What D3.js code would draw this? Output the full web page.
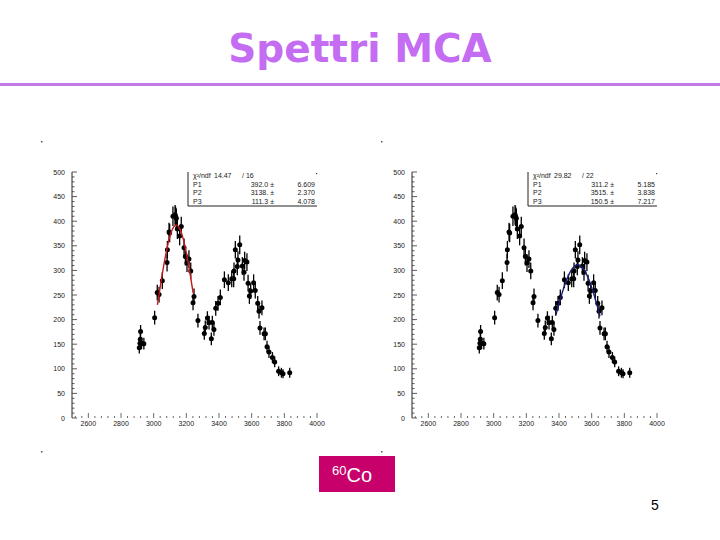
<!DOCTYPE html>
<html>
<head>
    <meta charset="utf-8">
    <style>
        body { margin: 0; background: white; }
        svg { display: block; }
    </style>
</head>
<body>
    <svg width="720" height="540"></svg>

<script src="https://d3js.org/d3.v7.min.js"></script>
<script>
    // MCA channel, counts and Poisson error
    let channels = [2912, 2916, 2918, 2920, 2926, 2940, 3006, 3022, 3033, 3053, 3082, 3084, 3094, 3098, 3118, 3131, 3134, 3139,
        3145, 3159, 3169, 3186, 3194, 3204, 3216, 3227, 3241, 3247, 3271, 3310, 3316, 3329, 3339, 3353, 3359, 3369,
        3380, 3394, 3408, 3433, 3457, 3478, 3490, 3492, 3500, 3512, 3516, 3527, 3543, 3553, 3557, 3571, 3578, 3586,
        3594, 3612, 3622, 3637, 3645, 3651, 3663, 3676, 3684, 3694, 3706, 3727, 3741, 3765, 3782, 3792, 3833]
    let counts = [143, 152, 160, 176, 152, 151, 204, 255, 251, 279, 316, 342, 378, 376, 410, 413, 410, 406,
        384, 370, 389, 346, 328, 315, 323, 299, 234, 247, 198, 172, 184, 203, 194, 161, 194, 180,
        223, 233, 245, 281, 275, 283, 283, 299, 342, 308, 321, 352, 309, 296, 320, 317, 274, 248,
        258, 275, 259, 233, 217, 183, 224, 171, 171, 145, 134, 123, 114, 95, 92, 90, 92]
    let errors = [12, 12, 13, 13, 12, 12, 14, 16, 16, 17, 18, 18, 19, 19, 20, 20, 20, 20,
        20, 19, 20, 19, 18, 18, 18, 17, 15, 16, 14, 13, 14, 14, 14, 13, 14, 13,
        15, 15, 16, 17, 17, 17, 17, 17, 18, 18, 18, 19, 18, 17, 18, 18, 17, 16,
        16, 17, 16, 15, 15, 14, 15, 13, 13, 12, 12, 11, 11, 10, 10, 9, 10]

    let xTicks = [2600, 2800, 3000, 3200, 3400, 3600, 3800, 4000]
    let yTicks = [0, 50, 100, 150, 200, 250, 300, 350, 400, 450, 500]

    // gaussian fits: [P1, P2, P3] with errors, fit range, chi2 / ndf
    let fitLeft = { p: [392.0, 3138, 111.3], pLabel: ["392.0", "3138.", "111.3"], err: ["6.609", "2.370", "4.078"],
        chi2: "14.47", ndf: "16", range: [3023, 3242], color: "#c41a1a" }
    let fitRight = { p: [311.2, 3515, 150.5], pLabel: ["311.2", "3515.", "150.5"], err: ["5.185", "3.838", "7.217"],
        chi2: "29.82", ndf: "22", range: [3381, 3651], color: "#1c1c78" }

    let svg = d3.select("svg")

    // title
    svg.append("text")
        .attr("x", 360)
        .attr("y", 62)
        .attr("text-anchor", "middle")
        .attr("font-family", "DejaVu Sans")
        .attr("font-weight", "bold")
        .attr("font-size", 39)
        .attr("fill", "#c46cf2")
        .text("Spettri MCA")

    svg.append("rect")
        .attr("x", 0).attr("y", 83)
        .attr("width", 720).attr("height", 3)
        .attr("fill", "#c07ae8")

    // little corner marks of the pasted pictures
    let corners = [[41, 141], [381, 141], [41, 451], [381, 451]]
    svg.selectAll(".corner")
        .data(corners)
        .join("rect")
        .attr("x", d => d[0]).attr("y", d => d[1])
        .attr("width", 1.5).attr("height", 1.5)
        .attr("fill", "#555")

    function drawPanel(offset, fit) {
        let x = d3.scaleLinear().domain([2500, 4000]).range([72 + offset, 317 + offset])
        let y = d3.scaleLinear().domain([0, 500]).range([418, 172])
        let g = svg.append("g")

        // y axis: line, ticks on the right side
        g.append("line")
            .attr("x1", x(2500)).attr("x2", x(2500))
            .attr("y1", y(0)).attr("y2", y(500))
            .attr("stroke", "#222").attr("stroke-width", 1)

        g.selectAll(".yminor")
            .data(d3.range(0, 501, 10))
            .join("line")
            .attr("x1", x(2500)).attr("x2", d => x(2500) + (d % 50 == 0 ? 5 : 2.5))
            .attr("y1", d => y(d)).attr("y2", d => y(d))
            .attr("stroke", "#333").attr("stroke-width", 0.8)

        g.selectAll(".ylab")
            .data(yTicks)
            .join("text")
            .attr("x", x(2500) - 7)
            .attr("y", d => y(d) + 2.5)
            .attr("text-anchor", "end")
            .attr("font-family", "Liberation Sans")
            .attr("font-size", 7)
            .attr("fill", "#222")
            .text(d => d)

        // x axis: ticks only
        g.selectAll(".xminor")
            .data(d3.range(2520, 4001, 40))
            .join("line")
            .attr("x1", d => x(d)).attr("x2", d => x(d))
            .attr("y1", y(0)).attr("y2", d => y(0) - ((d - 2600) % 200 == 0 ? 5 : 2))
            .attr("stroke", "#444").attr("stroke-width", 0.8)

        g.selectAll(".xlab")
            .data(xTicks)
            .join("text")
            .attr("x", d => x(d))
            .attr("y", 426)
            .attr("text-anchor", "middle")
            .attr("font-family", "Liberation Sans")
            .attr("font-size", 7)
            .attr("fill", "#222")
            .text(d => d)

        // stats box
        let bx = x(2500) + 116, by = y(500), bw = 129, bh = 34
        g.append("path")
            .attr("d", `M${bx},${by} V${by + bh} H${bx + bw}`)
            .attr("fill", "none").attr("stroke", "#222").attr("stroke-width", 1)
        g.append("rect")
            .attr("x", bx + bw - 1).attr("y", by + 1).attr("width", 1.2).attr("height", 1.2).attr("fill", "#444")

        let rows = [["\u03C7\u00B2/ndf", fit.chi2 + "", "/   " + fit.ndf, ""]]
        for (let i = 0; i < 3; i++) rows.push(["P" + (i + 1), fit.pLabel[i] + " \u00B1", "", fit.err[i]])
        rows.forEach((r, i) => {
            let ty = by + 6 + i * 8.6
            let t = g.append("g").attr("font-family", "Liberation Sans").attr("font-size", 7).attr("fill", "#222")
            t.append("text").attr("x", bx + 5).attr("y", ty).text(r[0])
            if (i == 0) {
                t.append("text").attr("x", bx + 26).attr("y", ty).text(r[1])
                t.append("text").attr("x", bx + 54).attr("y", ty).text(r[2])
            } else {
                t.append("text").attr("x", bx + 86).attr("y", ty).attr("text-anchor", "end").text(r[1])
                t.append("text").attr("x", bx + bw - 2).attr("y", ty).attr("text-anchor", "end").text(r[3])
            }
        })

        // error bars and markers
        let pts = channels.map((c, i) => ({ c: c, n: counts[i], e: errors[i] }))
        g.selectAll(".err")
            .data(pts)
            .join("line")
            .attr("x1", d => x(d.c)).attr("x2", d => x(d.c))
            .attr("y1", d => y(d.n - d.e)).attr("y2", d => y(d.n + d.e))
            .attr("stroke", "#000").attr("stroke-width", 1.3)
        g.selectAll(".dot")
            .data(pts)
            .join("circle")
            .attr("cx", d => x(d.c)).attr("cy", d => y(d.n))
            .attr("r", 2.5)
            .attr("fill", "#000")

        // gaussian fit curve from the fitted parameters
        let gauss = c => fit.p[0] * Math.exp(-0.5 * Math.pow((c - fit.p[1]) / fit.p[2], 2))
        let xs = d3.range(fit.range[0], fit.range[1] + 1, 3)
        g.append("path")
            .datum(xs)
            .attr("d", d3.line().x(d => x(d)).y(d => y(gauss(d))))
            .attr("fill", "none")
            .attr("stroke", fit.color)
            .attr("stroke-width", 1.4)
    }

    drawPanel(0, fitLeft)
    drawPanel(340, fitRight)

    // source label
    let lab = svg.append("g")
    lab.append("rect")
        .attr("x", 319).attr("y", 456)
        .attr("width", 76).attr("height", 36)
        .attr("fill", "#c8006c")
    let co = lab.append("text")
        .attr("x", 332).attr("y", 482)
        .attr("font-family", "Liberation Sans")
        .attr("fill", "white")
    co.append("tspan").attr("font-size", 13).attr("dy", -7).text("60")
    co.append("tspan").attr("font-size", 20).attr("dy", 7).text("Co")

    svg.append("text")
        .attr("x", 655).attr("y", 510)
        .attr("text-anchor", "middle")
        .attr("font-family", "Liberation Sans")
        .attr("font-size", 14)
        .text("5")
</script>
</body>
</html>
